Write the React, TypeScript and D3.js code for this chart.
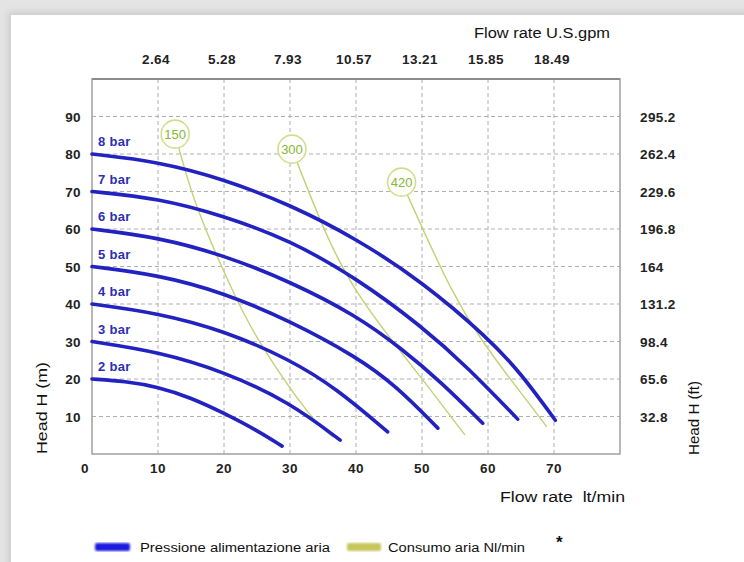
import { useEffect, useRef } from "react";
import * as d3 from "d3";

// flow rate (l/min) ticks and their U.S. gpm equivalents
const flowTicks = [0, 10, 20, 30, 40, 50, 60, 70];
const gpmTicks = [10, 20, 30, 40, 50, 60, 70];
const gpmLabels = ["2.64", "5.28", "7.93", "10.57", "13.21", "15.85", "18.49"];

// head (m) ticks and the feet equivalents
const headTicks = [10, 20, 30, 40, 50, 60, 70, 80, 90];
const ftLabels = ["32.8", "65.6", "98.4", "131.2", "164", "196.8", "229.6", "262.4", "295.2"];

// air supply pressure curves: [flow l/min, head m]
const pressureLabels = ["2 bar", "3 bar", "4 bar", "5 bar", "6 bar", "7 bar", "8 bar"];
const bar2: [number, number][] = [[0, 20], [5, 19.4], [10, 17.9], [15, 15], [20, 10.9], [25, 6.3], [28.8, 2.1]];
const bar3: [number, number][] = [[0, 30], [10, 27.3], [20, 22], [30, 13.8], [37.6, 3.7]];
const bar4: [number, number][] = [[0, 40], [10, 37.6], [20, 32.9], [30, 25.2], [37, 17.5], [44.8, 5.9]];
const bar5: [number, number][] = [[0, 50], [10, 47.8], [20, 43], [30, 35.5], [40, 26], [46, 18.3], [52.4, 6.9]];
const bar6: [number, number][] = [[0, 60], [10, 57.8], [20, 53], [30, 46], [40, 37], [47, 28], [53, 19], [59.2, 8.2]];
const bar7: [number, number][] = [[0, 70], [10, 68.2], [20, 63.5], [30, 57], [40, 47], [50, 34], [57, 23], [64.5, 9.3]];
const bar8: [number, number][] = [[0, 80], [10, 78], [20, 73.3], [30, 66.5], [40, 57.5], [50, 46], [60, 31], [65, 21.5], [70.2, 9]];
const pressureCurves = [bar2, bar3, bar4, bar5, bar6, bar7, bar8];

// air consumption lines (Nl/min), first point = label bubble
const airLabels = ["150", "300", "420"];
const air150: [number, number][] = [[12.6, 85.3], [15.9, 66], [21.2, 44], [25.9, 28.5], [32.5, 11.7], [36.5, 4.5]];
const air300: [number, number][] = [[30.3, 81.3], [35.3, 59.5], [40, 43.7], [45.4, 30.4], [50.5, 18.9], [56.5, 5.1]];
const air420: [number, number][] = [[46.9, 72.5], [50.2, 59.7], [54.5, 43.9], [59, 30.6], [63.6, 19.5], [68.9, 7.3]];
const airCurves = [air150, air300, air420];

const BLUE = "#2222c0";
const GREEN = "#c2d274";
const FONT = "'Liberation Sans', Arial, sans-serif";

export default function App() {
    const svgRef = useRef<SVGSVGElement | null>(null);

    useEffect(() => {
        if (!svgRef.current) return;
        const width = 744;
        const height = 562;
        const svg = d3.select(svgRef.current);
        svg.selectAll("*").remove();

        const left = 92, right = 620, top = 79, bottom = 454;
        const x = d3.scaleLinear().domain([0, 80]).range([left, right]);
        const y = d3.scaleLinear().domain([0, 100]).range([bottom, top]);

        const defs = svg.append("defs");
        const sh = defs.append("filter").attr("id", "sh").attr("x", "-5%").attr("y", "-5%").attr("width", "110%").attr("height", "110%");
        sh.append("feGaussianBlur").attr("stdDeviation", 3);
        const bl = defs.append("filter").attr("id", "bl");
        bl.append("feGaussianBlur").attr("stdDeviation", 0.8);

        // page background + card
        svg.append("rect").attr("width", width).attr("height", height).attr("fill", "#e4e4e4");
        svg.append("rect").attr("x", 8).attr("y", 12).attr("width", width).attr("height", height)
            .attr("fill", "#cccccc").attr("filter", "url(#sh)");
        svg.append("rect").attr("x", 11).attr("y", 15).attr("width", width).attr("height", height).attr("fill", "#fff");

        // grid
        svg.append("g").selectAll("line").data(flowTicks.filter(d => d > 0)).join("line")
            .attr("x1", d => x(d)).attr("x2", d => x(d)).attr("y1", top).attr("y2", bottom)
            .attr("stroke", "#b0b0b0").attr("stroke-dasharray", "4,3");
        svg.append("g").selectAll("line").data(headTicks).join("line")
            .attr("x1", left).attr("x2", right).attr("y1", d => y(d)).attr("y2", d => y(d))
            .attr("stroke", "#b0b0b0").attr("stroke-dasharray", "4,3");

        // frame
        svg.append("rect").attr("x", left).attr("y", top).attr("width", right - left).attr("height", bottom - top)
            .attr("fill", "none").attr("stroke", "#a0a0a0").attr("stroke-width", 1.5);
        svg.append("line").attr("x1", left).attr("x2", right).attr("y1", top).attr("y2", top)
            .attr("stroke", "#8c8c8c").attr("stroke-width", 2);

        const txt = (sel: d3.Selection<SVGGElement, unknown, null, undefined>) =>
            sel.attr("font-family", FONT).attr("font-size", 13.5).attr("font-weight", "bold")
                .attr("letter-spacing", 0.4).attr("fill", "#222");

        // bottom axis labels
        svg.append("g").call(txt).selectAll("text").data(flowTicks).join("text")
            .attr("x", d => x(d) - (d === 0 ? 7 : 0)).attr("y", 473).attr("text-anchor", "middle").text(d => d);
        // top gpm labels
        svg.append("g").call(txt).selectAll("text").data(gpmTicks).join("text")
            .attr("x", d => x(d) - 2).attr("y", 64).attr("text-anchor", "middle").text((_, i) => gpmLabels[i]);
        // left labels
        svg.append("g").call(txt).selectAll("text").data(headTicks).join("text")
            .attr("x", 81).attr("y", d => y(d) + 5).attr("text-anchor", "end").text(d => d);
        // right ft labels
        svg.append("g").call(txt).selectAll("text").data(headTicks).join("text")
            .attr("x", 640).attr("y", d => y(d) + 5).text((_, i) => ftLabels[i]);

        // axis titles
        const title = svg.append("g").call(txt).attr("font-weight", "normal").attr("font-size", 14)
            .attr("letter-spacing", 0).attr("fill", "#111");
        title.append("text").attr("x", 474).attr("y", 38).attr("textLength", 136)
            .attr("lengthAdjust", "spacingAndGlyphs").text("Flow rate U.S.gpm");
        title.append("text").attr("x", 500).attr("y", 502).attr("xml:space", "preserve").attr("textLength", 125)
            .attr("lengthAdjust", "spacingAndGlyphs").text("Flow rate  lt/min");
        title.append("text").attr("transform", "translate(47,408) rotate(-90)").attr("text-anchor", "middle")
            .attr("textLength", 92).attr("lengthAdjust", "spacingAndGlyphs").text("Head H (m)");
        title.append("text").attr("transform", "translate(699,418) rotate(-90)").attr("text-anchor", "middle")
            .attr("textLength", 74).attr("lengthAdjust", "spacingAndGlyphs").text("Head H (ft)");

        const line = d3.line<[number, number]>()
            .x(d => x(d[0])).y(d => y(d[1]))
            .curve(d3.curveNatural);
        const smooth = d3.line<[number, number]>()
            .x(d => x(d[0])).y(d => y(d[1]))
            .curve(d3.curveBasis);

        // air consumption lines (under the pressure curves)
        const air = svg.append("g");
        airCurves.forEach(c => {
            air.append("path").attr("d", line(c)).attr("fill", "none")
                .attr("stroke", GREEN).attr("stroke-width", 1.4);
        });

        // pressure curves
        const pg = svg.append("g");
        pressureCurves.forEach((c, i) => {
            pg.append("path").attr("d", smooth(c)).attr("fill", "none")
                .attr("stroke", BLUE).attr("stroke-width", 3.6).attr("stroke-linecap", "round");
            pg.append("text").attr("x", x(0) + 6).attr("y", y(c[0][1]) - 8)
                .attr("font-family", FONT).attr("font-size", 13).attr("font-weight", "bold")
                .attr("letter-spacing", 0.3).attr("fill", "#2e2eb4").text(pressureLabels[i]);
        });

        // air bubbles
        const bub = svg.append("g");
        airCurves.forEach((c, i) => {
            const [bx, by] = c[0];
            bub.append("circle").attr("cx", x(bx)).attr("cy", y(by)).attr("r", 14)
                .attr("fill", "#fff").attr("stroke", "#d2de8c").attr("stroke-width", 1.6);
            bub.append("text").attr("x", x(bx)).attr("y", y(by) + 4.5).attr("text-anchor", "middle")
                .attr("font-family", FONT).attr("font-size", 13).attr("fill", "#86b834").text(airLabels[i]);
        });

        // legend
        const lg = svg.append("g").attr("font-family", FONT).attr("font-size", 12.5).attr("fill", "#111");
        lg.append("rect").attr("x", 95).attr("y", 543).attr("width", 35).attr("height", 8).attr("rx", 2)
            .attr("fill", "#1c1ce0").attr("filter", "url(#bl)");
        lg.append("text").attr("x", 140).attr("y", 552).attr("textLength", 190)
            .attr("lengthAdjust", "spacingAndGlyphs").text("Pressione alimentazione aria");
        lg.append("rect").attr("x", 347).attr("y", 543).attr("width", 34).attr("height", 8).attr("rx", 2)
            .attr("fill", "#c6c65c").attr("filter", "url(#bl)");
        lg.append("text").attr("x", 388).attr("y", 552).attr("textLength", 137)
            .attr("lengthAdjust", "spacingAndGlyphs").text("Consumo aria Nl/min");
        lg.append("text").attr("x", 556).attr("y", 548).attr("font-size", 17).attr("font-weight", "bold").text("*");
    }, []);

    return (
        <svg ref={svgRef} width={744} height={562}
            style={{ position: "absolute", left: 0, top: 0, display: "block" }} />
    );
}
